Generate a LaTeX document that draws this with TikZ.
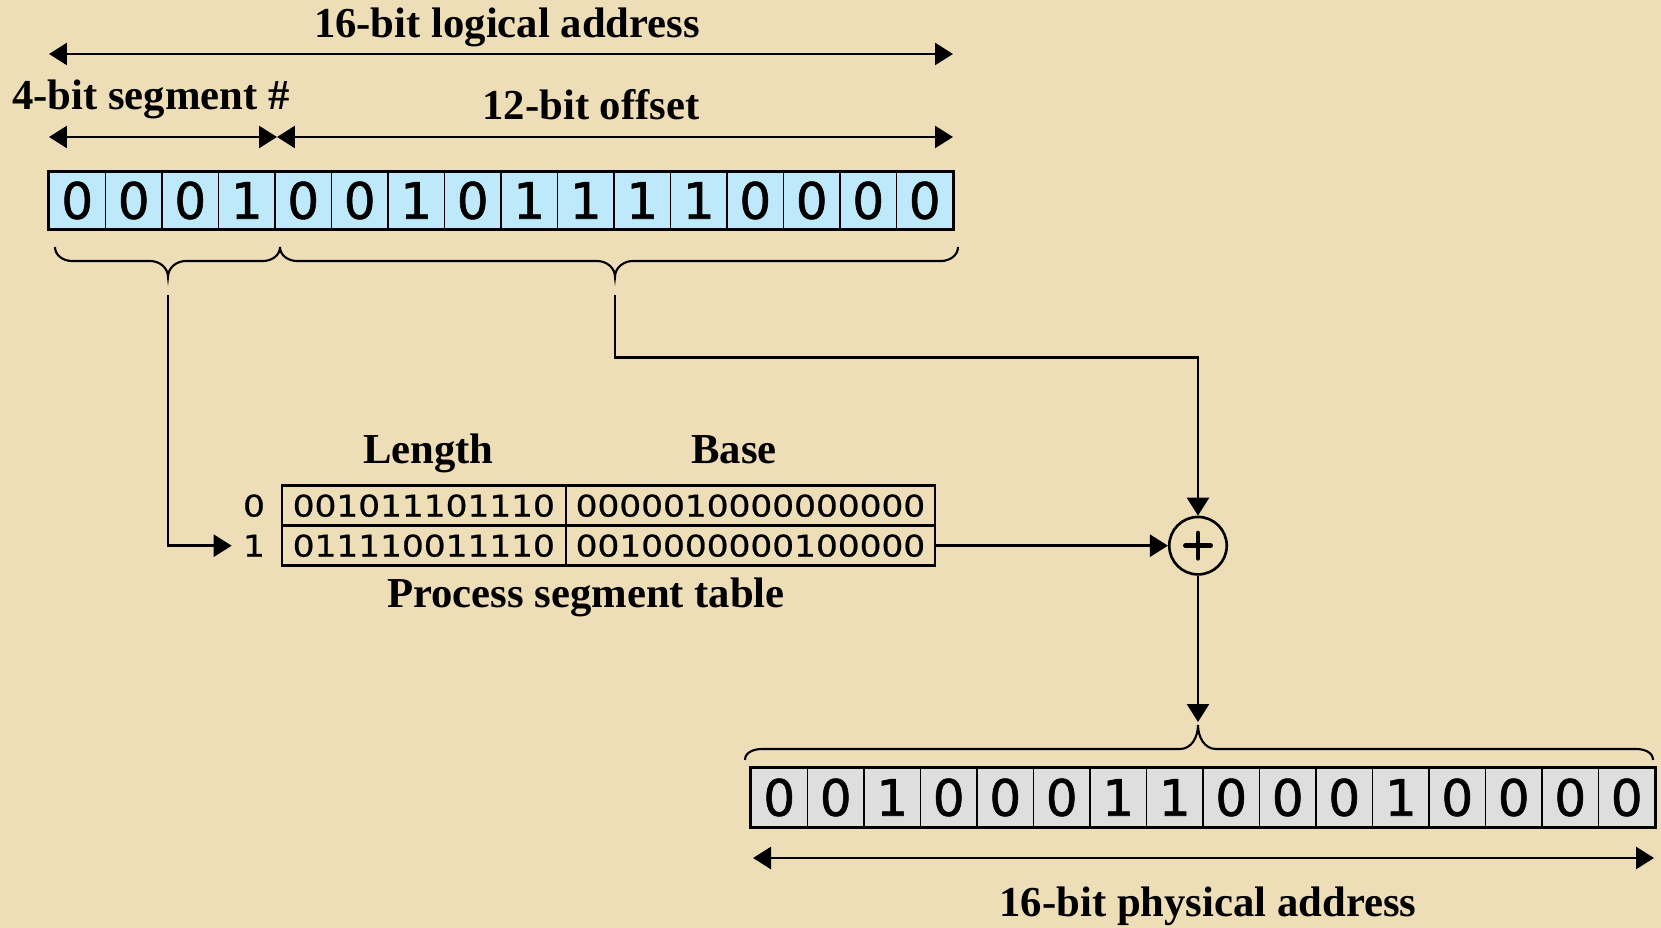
\documentclass[tikz,border=0pt]{standalone}
\usepackage{fontspec}
\setmainfont{Liberation Serif}
\newfontfamily\bitfont[FakeBold=1.2]{DejaVu Sans}
\newfontfamily\tabfont[FakeStretch=1.15, FakeBold=0.8]{DejaVu Sans}
\usetikzlibrary{arrows.meta}
\definecolor{paper}{RGB}{238,222,184}
\definecolor{logblue}{RGB}{190,233,250}
\definecolor{physgray}{RGB}{222,222,222}
\begin{document}
\begin{tikzpicture}[x=0.02cm, y=0.02cm, >={Triangle[length=0.36cm, width=0.44cm]},
  title/.style={font=\bfseries\fontsize{24.3}{28}\selectfont, anchor=base, inner sep=0pt},
  link/.style={line width=1.5pt, ->},
  dimline/.style={line width=1.5pt, <->},
  brace/.style={line width=1.2pt},
  bitcell/.style={draw, line width=1pt, inner sep=0pt, minimum width=1.13cm, font=\bitfont\fontsize{28.5}{30}\selectfont},
  tabcell/.style={draw, line width=1.4pt, inner sep=0pt, minimum height=0.8cm, font=\tabfont\fontsize{17}{20}\selectfont},
  rowlabel/.style={inner sep=0pt, minimum width=0.88cm, font=\tabfont\fontsize{17}{20}\selectfont}]
\useasboundingbox (0,0) rectangle (1661,-928);
\fill[paper] (0,0) rectangle (1661,-928);
\coordinate (la) at (49,-54);
\coordinate (lb) at (953,-54);
\coordinate (sa) at (49,-137);
\coordinate (sb) at (277,-137);
\coordinate (ob) at (953,-137);
\coordinate (pa) at (753,-858);
\coordinate (pb) at (1654,-858);
\coordinate (segout) at (168,-295);
\coordinate (offout) at (615,-295);
\coordinate (bend) at (1198,-357.3);
\coordinate (phystip) at (1198,-722);
\node[title] (logtitle) at (507,-38) {16-bit logical address};
\node[title] (segtitle) at (151,-110) {4-bit segment \#};
\node[title] (offtitle) at (591,-120) {12-bit offset};
\draw[dimline] (la) -- (lb);
\draw[dimline] (sa) -- (sb);
\draw[dimline] (sb) -- (ob);
\foreach \b [count=\i] in {0,0,0,1,0,0,1,0,1,1,1,1,0,0,0,0}
  \node[bitcell, fill=logblue, minimum height=1.14cm] (lb\i) at ({20.75+56.5*\i}, -200.5) {\b};
\draw[line width=1.7pt] (lb1.north west) rectangle (lb16.south east);
\draw[brace] (55,-247) to[out=-90, in=180] (72,-261) -- (150,-261) to[out=0, in=90] (168,-277) to[out=90, in=180] (186,-261) -- (263,-261) to[out=0, in=-90] (280,-247);
\draw[brace] (280,-247) to[out=-90, in=180] (297,-261) -- (597,-261) to[out=0, in=90] (615,-277) to[out=90, in=180] (633,-261) -- (941,-261) to[out=0, in=-90] (958,-247);
\node[title] (lenhead) at (428.5,-464) {Length};
\node[title] (basehead) at (734,-464) {Base};
\node[tabcell, minimum width=5.686cm] (len0) at (423.85,-505.7) {001011101110};
\node[tabcell, minimum width=7.38cm] (base0) at (750.5,-505.7) {0000010000000000};
\node[tabcell, minimum width=5.686cm] (len1) at (423.85,-545.7) {011110011110};
\node[tabcell, minimum width=7.38cm] (base1) at (750.5,-545.7) {0010000000100000};
\node[rowlabel] (row0) at (254,-505.7) {0};
\node[rowlabel] (row1) at (254,-545.7) {1};
\node[title] (tabtitle) at (586,-608) {Process segment table};
\node[draw, circle, line width=1.5pt, minimum size=1.15cm, inner sep=0pt] (plus) at (1198,-545.7) {};
\draw[line width=2.8pt, line cap=round] ([xshift=-0.25cm]plus.center) -- ([xshift=0.25cm]plus.center) ([yshift=-0.25cm]plus.center) -- ([yshift=0.25cm]plus.center);
\draw[link] (segout) |- (row1.west);
\draw[link] (offout) |- (bend) -- (plus);
\draw[link] (base1.east) -- (plus);
\draw[link] (plus) -- (phystip);
\draw[brace] (745,-760) to[out=90, in=180] (762,-749) -- (1180,-749) to[out=0, in=-90] (1198,-725) to[out=-90, in=180] (1216,-749) -- (1636,-749) to[out=0, in=90] (1653,-760);
\foreach \b [count=\i] in {0,0,1,0,0,0,1,1,0,0,0,1,0,0,0,0}
  \node[bitcell, fill=physgray, minimum height=1.18cm] (pb\i) at ({722.75+56.5*\i}, -797.5) {\b};
\draw[line width=1.7pt] (pb1.north west) rectangle (pb16.south east);
\draw[dimline] (pa) -- (pb);
\node[title] (phystitle) at (1208,-917) {16-bit physical address};
\end{tikzpicture}
\end{document}
